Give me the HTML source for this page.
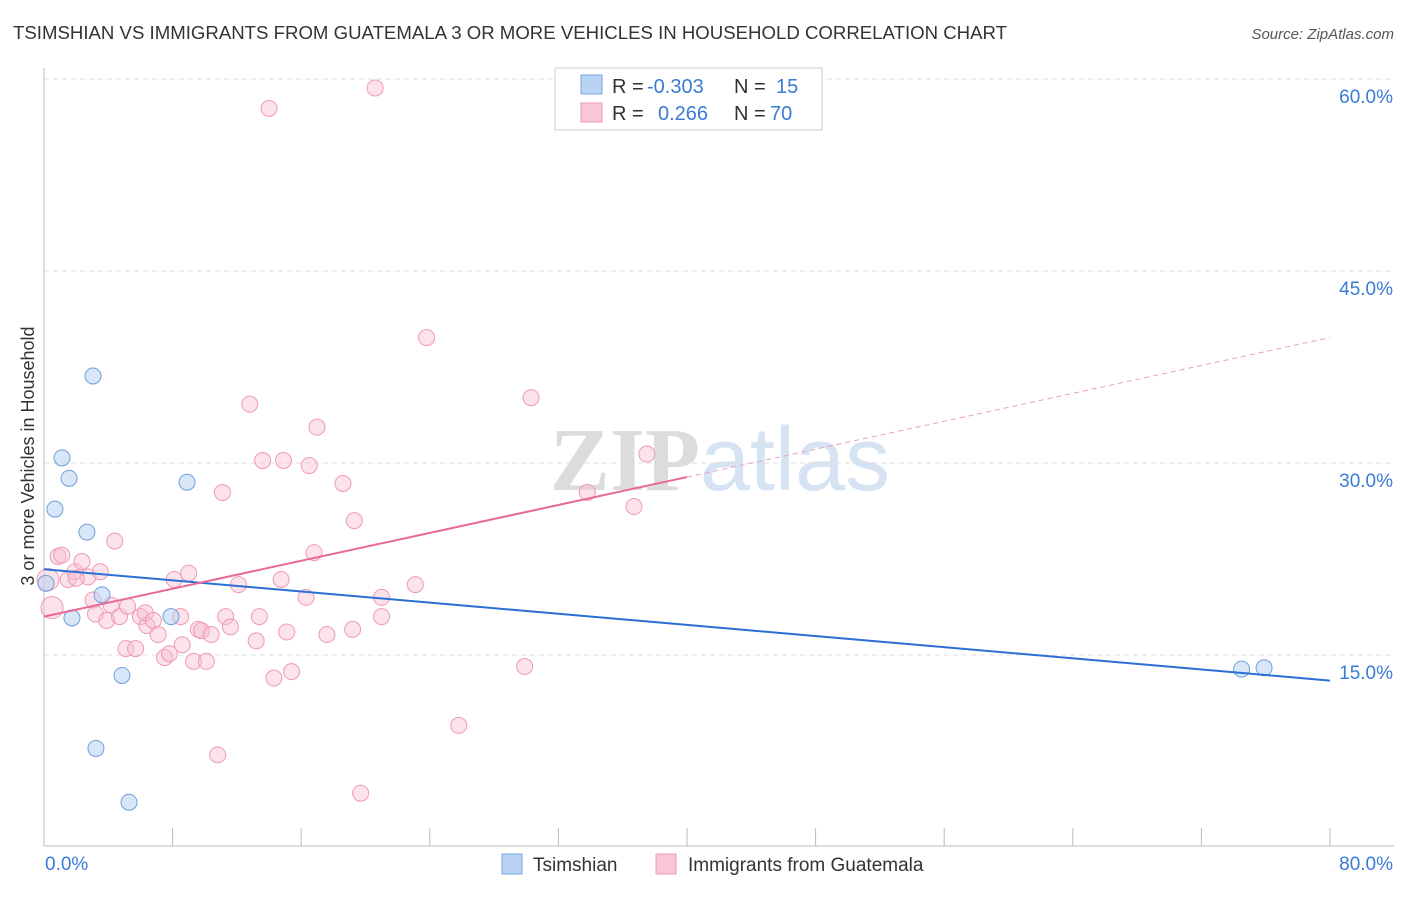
<!DOCTYPE html>
<html><head><meta charset="utf-8"><style>
body{margin:0;background:#fff;font-family:"Liberation Sans",sans-serif}
svg text{font-family:"Liberation Sans",sans-serif}
</style></head><body>
<svg id="chart" width="1406" height="892" xmlns="http://www.w3.org/2000/svg">
<text x="13" y="39" font-size="18" fill="#333" textLength="994" lengthAdjust="spacingAndGlyphs">TSIMSHIAN VS IMMIGRANTS FROM GUATEMALA 3 OR MORE VEHICLES IN HOUSEHOLD CORRELATION CHART</text>
<text x="1394" y="39" font-size="15" fill="#555" text-anchor="end" font-style="italic">Source: ZipAtlas.com</text>
<text x="720" y="490" font-size="90" text-anchor="middle" fill="#e6e6e6"><tspan font-family="Liberation Serif" font-weight="bold" fill="#dcdcdc">ZIP</tspan><tspan fill="#d5e3f3">atlas</tspan></text>
<g id="grid"></g>
<g id="axes"></g>
<g id="marks"></g>
<text transform="translate(34,456) rotate(-90)" font-size="18" fill="#333" text-anchor="middle">3 or more Vehicles in Household</text>
<g font-size="20">
<rect x="555" y="68" width="267" height="62" fill="#fff" stroke="#ccc"/>
<rect x="581" y="75" width="21" height="19" fill="#b8d3f3" stroke="#7aa6e0"/>
<rect x="581" y="103" width="21" height="19" fill="#f9c6d5" stroke="#ef9ab5"/>
<text x="612" y="93" fill="#333">R =</text>
<text x="647" y="93" fill="#3a7bd5">-0.303</text>
<text x="734" y="93" fill="#333">N =</text>
<text x="776" y="93" fill="#3a7bd5">15</text>
<text x="612" y="120" fill="#333">R =</text>
<text x="658" y="120" fill="#3a7bd5">0.266</text>
<text x="734" y="120" fill="#333">N =</text>
<text x="770" y="120" fill="#3a7bd5">70</text>
</g>
<g>
<rect x="502" y="854" width="20" height="20" fill="#b8d3f3" stroke="#7aa6e0"/>
<text x="533" y="871" font-size="19" fill="#333">Tsimshian</text>
<rect x="656" y="854" width="20" height="20" fill="#f9c6d5" stroke="#ef9ab5"/>
<text x="688" y="871" font-size="19" fill="#333">Immigrants from Guatemala</text>
</g>
</svg>
<script>
const yTicks=[15,30,45,60];
const yTickLabels=["15.0%","30.0%","45.0%","60.0%"];
const xTickLabels=["0.0%","80.0%"];
const blueX=[0.12,0.68,1.12,1.56,3.05,2.67,1.74,3.61,4.85,3.23,5.29,8.9,7.9,74.5,75.9];
const blueY=[20.6,26.4,30.4,28.8,36.8,24.6,17.9,19.7,13.4,7.7,3.5,28.5,18.0,13.9,14.0];
const pinkX=[0.5,0.25,0.87,1.1,1.5,1.93,2.36,2.74,3.5,4.4,3.05,3.2,3.9,4.17,4.7,5.2,5.1,5.7,6.0,6.4,6.3,6.8,7.1,7.5,7.8,8.1,8.5,8.6,9.0,9.3,9.6,9.8,10.1,10.4,10.8,11.1,11.3,11.6,12.1,12.8,13.2,13.4,13.6,14.0,14.3,14.75,14.9,15.1,15.4,16.3,16.5,16.8,16.98,17.6,18.6,19.2,19.3,19.7,20.6,21.0,21.0,23.1,23.8,25.8,29.9,30.3,33.8,36.7,37.5,2.0];
const pinkY=[18.7,20.9,22.7,22.8,20.9,21.5,22.3,21.1,21.5,23.9,19.3,18.2,17.7,18.9,18.0,18.8,15.5,15.5,18.0,17.3,18.3,17.7,16.6,14.8,15.1,20.9,18.0,15.8,21.4,14.5,17.0,16.9,14.5,16.6,7.2,27.7,18.0,17.2,20.5,34.6,16.1,18.0,30.2,57.7,13.2,20.9,30.2,16.8,13.7,19.5,29.8,23.0,32.8,16.6,28.4,17.0,25.5,4.2,59.3,19.5,18.0,20.5,39.8,9.5,14.1,35.1,27.7,26.6,30.7,21.0];
const blueTrend=[21.7,13.0];
const pinkTrend=[18.0,39.8];
const pinkSolidEnd=40;
const NS="http://www.w3.org/2000/svg";
const X=v=>44+v/80*1286, Y=v=>847-v*12.8;
function mk(tag,a,parent){const e=document.createElementNS(NS,tag);for(const k in a)e.setAttribute(k,a[k]);parent.appendChild(e);return e;}
const grid=document.getElementById('grid'),axes=document.getElementById('axes'),marks=document.getElementById('marks');
yTicks.forEach((t,i)=>{
 const l=mk('line',{x1:44,x2:1394,y1:Y(t),y2:Y(t),stroke:'#ddd','stroke-dasharray':'5,4'},grid);
 
 
 const tx=mk('text',{x:1393,y:Y(t)+24,'font-size':19,fill:'#3a7bd5','text-anchor':'end'},axes);
 tx.textContent=yTickLabels[i];
 
 
});
const ax=mk('line',{x1:44,x2:44,y1:68,y2:846,stroke:'#bbb'},axes);


const bx=mk('line',{x1:44,x2:1394,y1:846,y2:846,stroke:'#bbb'},axes);


for(let i=0;i<=10;i++){const tk=mk('line',{x1:X(i*8),x2:X(i*8),y1:828,y2:846,stroke:'#bbb'},axes);
 
 }
[[0,'start',45],[80,'end',1393]].forEach((d,i)=>{const t=mk('text',{x:d[2],y:870,'font-size':19,fill:'#3a7bd5','text-anchor':d[1]},axes);t.textContent=xTickLabels[i];
 
 });
pinkX.forEach((x,i)=>{const big=i<2;const c=mk('circle',{cx:X(x),cy:Y(pinkY[i]),r:big?11:8,fill:'rgba(249,190,208,0.45)',stroke:'#ef9ab5','stroke-width':1},marks);
 
 });
blueX.forEach((x,i)=>{const c=mk('circle',{cx:X(x),cy:Y(blueY[i]),r:8,fill:'rgba(184,211,243,0.55)',stroke:'#6f9fdc','stroke-width':1},marks);
 
 });
const pAt=x=>pinkTrend[0]+(pinkTrend[1]-pinkTrend[0])*x/80;
const bl=mk('line',{x1:X(0),y1:Y(blueTrend[0]),x2:X(80),y2:Y(blueTrend[1]),stroke:'#2b6fd6','stroke-width':2},marks);


const pl=mk('line',{x1:X(0),y1:Y(pAt(0)),x2:X(pinkSolidEnd),y2:Y(pAt(pinkSolidEnd)),stroke:'#e8689a','stroke-width':2},marks);


const pd=mk('line',{x1:X(pinkSolidEnd),y1:Y(pAt(pinkSolidEnd)),x2:X(80),y2:Y(pAt(80)),stroke:'#e8a0ba','stroke-width':1,'stroke-dasharray':'5,4'},marks);


</script>
</body></html>
